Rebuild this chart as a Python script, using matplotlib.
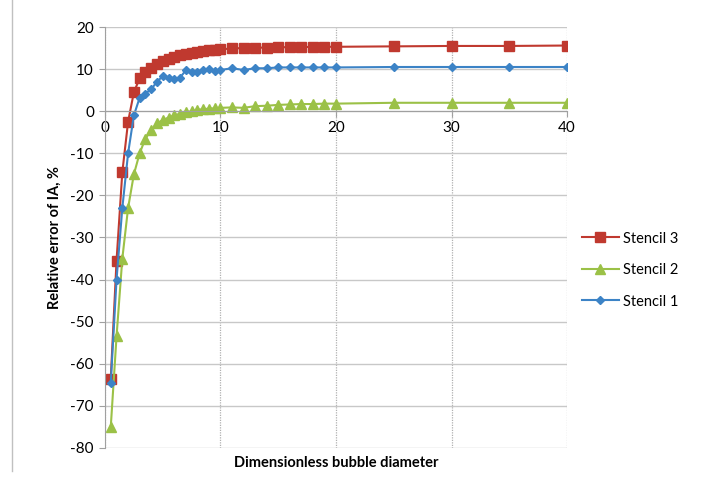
import matplotlib.pyplot as plt
from matplotlib.lines import Line2D

plt.rcParams['font.family'] = ['Lato', 'DejaVu Sans']
plt.rcParams['axes.unicode_minus'] = False

# bubble diameters
x = [0.5, 1, 1.5, 2, 2.5, 3, 3.5, 4, 4.5, 5, 5.5, 6, 6.5, 7, 7.5, 8, 8.5, 9, 9.5, 10,
     11, 12, 13, 14, 15, 16, 17, 18, 19, 20, 25, 30, 35, 40]

stencil3 = [-63.5, -35.5, -14.5, -2.5, 4.5, 7.8, 9.3, 10.3, 11.2, 11.9, 12.4, 12.9, 13.3, 13.6,
            13.9, 14.1, 14.3, 14.5, 14.6, 14.7, 14.9, 15.0, 15.1, 15.1, 15.2, 15.2, 15.2, 15.3,
            15.3, 15.3, 15.4, 15.5, 15.5, 15.6]
stencil2 = [-75.0, -53.5, -35.0, -23.0, -15.0, -10.0, -6.5, -4.5, -2.9, -2.1, -1.5, -1.0, -0.6,
            -0.3, 0.0, 0.3, 0.5, 0.6, 0.7, 0.8, 0.9, 0.8, 1.2, 1.3, 1.5, 1.6, 1.7, 1.7, 1.8,
            1.8, 2.0, 2.0, 2.0, 2.0]
stencil1 = [-64.5, -40.0, -23.0, -10.0, -1.0, 3.2, 4.2, 5.2, 7.0, 8.3, 8.0, 7.6, 8.0, 9.7, 9.4,
            9.2, 9.8, 10.0, 9.6, 9.8, 10.2, 9.8, 10.2, 10.2, 10.4, 10.4, 10.4, 10.4, 10.4,
            10.4, 10.5, 10.5, 10.5, 10.5]

red = '#C0392F'
green = '#9BC147'
blue = '#3C83C6'

fig = plt.figure(figsize=(7.07, 4.91), dpi=100)
ax = fig.add_axes([0.1485, 0.0876, 0.6535, 0.8574])

ax.plot(x, stencil3, color=red, marker='s', markersize=6.5, linewidth=1.5, label='Stencil 3')
ax.plot(x, stencil2, color=green, marker='^', markersize=6.5, linewidth=1.5, label='Stencil 2')
ax.plot(x, stencil1, color=blue, marker='D', markersize=4.5, linewidth=1.5, label='Stencil 1')

ax.set_xlim(0, 40)
ax.set_ylim(-80, 20)
ax.set_xticks([0, 10, 20, 30, 40])
ax.set_yticks(range(-80, 21, 10))

# gridlines
ax.yaxis.grid(True, color='#C8C8C8', linewidth=1.0)
ax.xaxis.grid(True, color='#B0B0B0', linewidth=0.9, linestyle=(0, (1, 1)))
ax.set_axisbelow(True)

# excel style: x axis crosses at y = 0
ax.spines['bottom'].set_position(('data', 0))
ax.spines['bottom'].set_color('#A0A0A0')
ax.spines['left'].set_color('#A0A0A0')
ax.spines['top'].set_visible(False)
ax.spines['right'].set_visible(False)
ax.tick_params(axis='x', length=4, color='#A0A0A0', labelsize=11, pad=3)
ax.tick_params(axis='y', length=4, color='#A0A0A0', labelsize=11, pad=4)

ax.set_ylabel('Relative error of IA, %', fontsize=10.5, fontweight='bold', labelpad=6)
fig.text(0.475, 0.058, 'Dimensionless bubble diameter', fontsize=10.5, fontweight='bold',
         ha='center', va='center')

ax.legend(loc='center left', bbox_to_anchor=(0.805, 0.45), bbox_transform=fig.transFigure,
          frameon=False, fontsize=10.5, handlelength=2.5, labelspacing=1.2, handletextpad=0.3)

# thin frame line at the left edge of the screenshot
fig.add_artist(Line2D([0.017, 0.017], [0.04, 1.0], color='#C0C0C0', linewidth=1))

fig.savefig('out.png', dpi=100)
